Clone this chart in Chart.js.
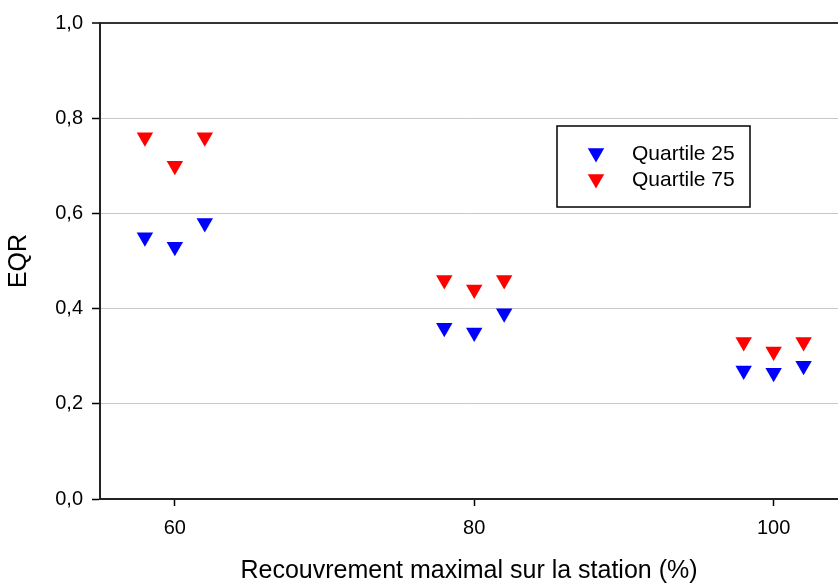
<!DOCTYPE html>
<html>
<head>
<meta charset="utf-8">
<script src="https://cdn.jsdelivr.net/npm/chart.js@4/dist/chart.umd.min.js"></script>
<style>
  html, body { margin: 0; padding: 0; background: #fff; }
  #wrap { width: 838px; height: 586px; position: relative; }
</style>
</head>
<body>
<div id="wrap"><canvas id="chart_eqr"></canvas></div>
<script>
// values
var xPositions = [58, 60, 62, 78, 80, 82, 98, 100, 102];
var quartile25 = [0.55, 0.53, 0.58, 0.36, 0.35, 0.39, 0.27, 0.265, 0.28];
var quartile75 = [0.76, 0.70, 0.76, 0.46, 0.44, 0.46, 0.33, 0.31, 0.33];
var seriesLabels = ['Quartile 25', 'Quartile 75'];
var xTickValues = [60, 80, 100];
var xTickLabels = ['60', '80', '100'];
var yTickValues = [0, 0.2, 0.4, 0.6, 0.8, 1.0];
var yTickLabels = ['0,0', '0,2', '0,4', '0,6', '0,8', '1,0'];

var FONT = "'Liberation Sans', Arial, sans-serif";

function toPoints(xs, ys) {
    return xs.map(function(x, i) { return { x: x, y: ys[i] }; });
}

function triangleDown(ctx, x, y, r) {
    var rad = Math.PI;
    ctx.beginPath();
    for (var k = 0; k < 3; k++) {
        var px = x + Math.sin(rad) * r, py = y - Math.cos(rad) * r;
        if (k === 0) ctx.moveTo(px, py); else ctx.lineTo(px, py);
        rad += 2 * Math.PI / 3;
    }
    ctx.closePath();
    ctx.fill();
}

var chart_eqr = new Chart(document.getElementById('chart_eqr'), {
    type: 'scatter',
    data: {
        datasets: [
            {
                label: seriesLabels[0],
                data: toPoints(xPositions, quartile25),
                pointStyle: 'triangle',
                pointRotation: 180,
                pointRadius: 9.5,
                pointHoverRadius: 9.5,
                pointBorderWidth: 0,
                backgroundColor: '#0000ff',
                borderColor: '#0000ff'
            },
            {
                label: seriesLabels[1],
                data: toPoints(xPositions, quartile75),
                pointStyle: 'triangle',
                pointRotation: 180,
                pointRadius: 9.5,
                pointHoverRadius: 9.5,
                pointBorderWidth: 0,
                backgroundColor: '#ff0000',
                borderColor: '#ff0000'
            }
        ]
    },
    options: {
        animation: false,
        responsive: true,
        maintainAspectRatio: false,
        layout: { autoPadding: false, padding: { top: 23, right: 0, bottom: 0, left: 0 } },
        plugins: {
            legend: { display: false },
            tooltip: { enabled: false },
            boxLegend: { left: 557, top: 126, width: 193, height: 81 }
        },
        scales: {
            x: {
                type: 'linear',
                min: 55,
                max: 104.3,
                afterFit: function(scale) {
                    scale.height = 87;
                    scale.paddingLeft = 0;
                    scale.paddingRight = 0;
                },
                afterBuildTicks: function(scale) {
                    scale.ticks = xTickValues.map(function(v) { return { value: v }; });
                },
                ticks: {
                    color: '#000',
                    font: { family: FONT, size: 20 },
                    padding: 10,
                    maxRotation: 0,
                    callback: function(value) {
                        var i = xTickValues.indexOf(value);
                        return i >= 0 ? xTickLabels[i] : '';
                    }
                },
                grid: {
                    drawOnChartArea: false,
                    drawTicks: true,
                    tickLength: 7,
                    tickColor: '#000',
                    tickWidth: 1.5
                },
                border: { display: true, color: '#222', width: 2 },
                title: {
                    display: true,
                    text: 'Recouvrement maximal sur la station (%)',
                    color: '#000',
                    font: { family: FONT, size: 25 },
                    padding: { top: 0, bottom: 0 }
                }
            },
            y: {
                type: 'linear',
                min: 0,
                max: 1.0,
                afterFit: function(scale) {
                    scale.width = 100;
                    scale.paddingTop = 0;
                    scale.paddingBottom = 0;
                },
                afterBuildTicks: function(scale) {
                    scale.ticks = yTickValues.map(function(v) { return { value: v }; });
                },
                ticks: {
                    color: '#000',
                    font: { family: FONT, size: 20 },
                    padding: 9,
                    callback: function(value) {
                        for (var i = 0; i < yTickValues.length; i++) {
                            if (Math.abs(yTickValues[i] - value) < 1e-9) return yTickLabels[i];
                        }
                        return '';
                    }
                },
                grid: {
                    color: function(ctx) {
                        return ctx.tick && Math.abs(ctx.tick.value - 1) < 1e-9 ? '#333' : '#c8c8c8';
                    },
                    lineWidth: function(ctx) {
                        return ctx.tick && Math.abs(ctx.tick.value - 1) < 1e-9 ? 2 : 1;
                    },
                    tickColor: '#000',
                    tickLength: 8,
                    tickWidth: 1.5
                },
                border: { display: true, color: '#222', width: 2 },
                title: {
                    display: true,
                    text: 'EQR',
                    color: '#000',
                    font: { family: FONT, size: 25 },
                    padding: { top: 4, bottom: 0 }
                }
            }
        }
    },
    plugins: [{
        id: 'whiteBackground',
        beforeDraw: function(chart) {
            var ctx = chart.ctx;
            ctx.save();
            ctx.fillStyle = 'white';
            ctx.fillRect(0, 0, chart.width, chart.height);
            ctx.restore();
        }
    }, {
        id: 'boxLegend',
        afterDraw: function(chart, args, opts) {
            var ctx = chart.ctx;
            ctx.save();
            ctx.fillStyle = '#fff';
            ctx.fillRect(opts.left, opts.top, opts.width, opts.height);
            ctx.strokeStyle = '#000';
            ctx.lineWidth = 1.5;
            ctx.strokeRect(opts.left, opts.top, opts.width, opts.height);
            ctx.font = '21px ' + FONT;
            ctx.textBaseline = 'middle';
            ctx.textAlign = 'left';
            chart.data.datasets.forEach(function(ds, i) {
                var cy = opts.top + 28 + i * 26;
                ctx.fillStyle = ds.backgroundColor;
                triangleDown(ctx, opts.left + 39, cy - 1, 9.5);
                ctx.fillStyle = '#000';
                ctx.fillText(ds.label, opts.left + 75, cy);
            });
            ctx.restore();
        }
    }]
});

window.addEventListener('beforeprint', () => {
  chart_eqr.resize(838, 586);
});
window.addEventListener('afterprint', () => {
  chart_eqr.resize();
});
</script>
</body>
</html>
